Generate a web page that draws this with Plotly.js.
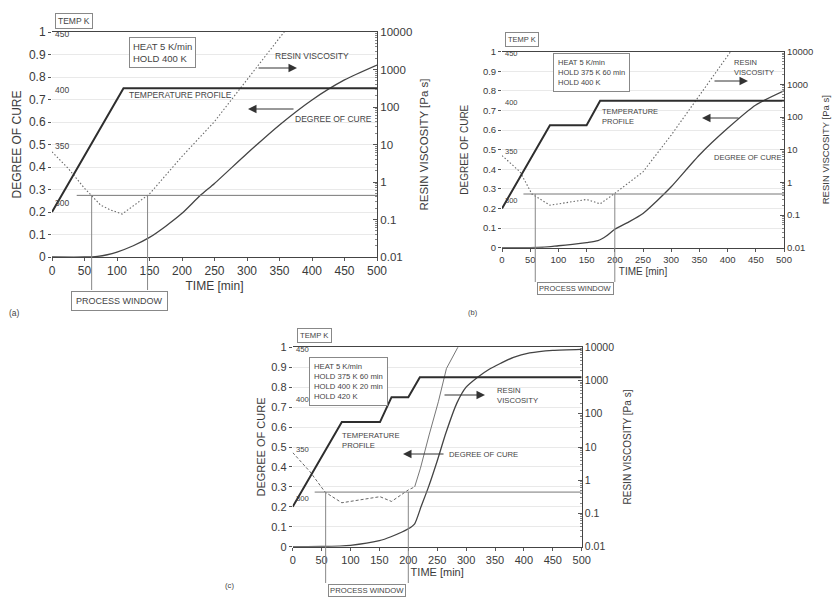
<!DOCTYPE html>
<html>
<head>
<meta charset="utf-8">
<script src="https://cdn.plot.ly/plotly-3.0.1.min.js"></script>
<style>html,body{margin:0;padding:0;background:#fff;}#chart{width:836px;height:601px;}</style>
</head>
<body>
<div id="chart"></div>
<script>
// ================= DATA =================
const timeTickVals = [0, 50, 100, 150, 200, 250, 300, 350, 400, 450, 500];
const cureTickVals = [0, 0.1, 0.2, 0.3, 0.4, 0.5, 0.6, 0.7, 0.8, 0.9, 1];
const viscTickVals = [0.01, 0.1, 1, 10, 100, 1000, 10000];
const viscTickText = ["0.01", "0.1", "1", "10", "100", "1000", "10000"];
const tempLabels = [300, 350, 400, 450];
const thresholdVisc = 0.44;      // Pa s, process-window viscosity limit
const thresholdStart = 38;       // min, where the limit line begins

// (a) HEAT 5 K/min, HOLD 400 K
const tempTimeA = [0, 110, 500];
const tempKA = [290, 400, 400];
const cureTimeA = [0, 50, 70, 85, 100, 125, 150, 175, 200, 228, 250, 300, 350, 400, 450, 500];
const cureA = [0, 0, 0.003, 0.01, 0.022, 0.05, 0.087, 0.137, 0.194, 0.273, 0.327, 0.46, 0.587, 0.698, 0.787, 0.853];
const viscTimeA = [0, 25, 50, 75, 90, 108, 150, 200, 250, 300, 350, 365];
const viscA = [6.4, 2.3, 0.68, 0.24, 0.18, 0.14, 0.48, 4.8, 41, 535, 6900, 15000];
const windowA = [61, 147];

// (b) HEAT 5 K/min, HOLD 375 K 60 min, HOLD 400 K
const tempTimeB = [0, 85, 150, 174, 500];
const tempKB = [290, 375, 375, 400, 400];
const cureTimeB = [0, 50, 75, 100, 125, 150, 170, 185, 200, 225, 250, 275, 300, 350, 400, 450, 500];
const cureB = [0, 0, 0.003, 0.01, 0.017, 0.026, 0.036, 0.06, 0.094, 0.132, 0.175, 0.24, 0.311, 0.473, 0.609, 0.728, 0.8];
const viscTimeB = [0, 32, 53, 85, 150, 174, 200, 250, 300, 350, 400, 410];
const viscB = [6.6, 2.1, 0.44, 0.2, 0.3, 0.22, 0.46, 2.1, 28, 470, 7900, 13000];
const windowB = [59, 200];

// (c) HEAT 5 K/min, HOLD 375 K 60 min, HOLD 400 K 20 min, HOLD 420 K
const tempTimeC = [0, 85, 151, 171, 200, 220, 500];
const tempKC = [290, 375, 375, 400, 400, 420, 420];
const cureTimeC = [0, 50, 100, 150, 170, 200, 211, 222, 235, 250, 265, 284, 300, 320, 340, 360, 382, 410, 450, 500];
const cureC = [0, 0.001, 0.007, 0.03, 0.05, 0.09, 0.115, 0.2, 0.3, 0.43, 0.57, 0.72, 0.8, 0.85, 0.89, 0.92, 0.95, 0.972, 0.985, 0.99];
const viscTimeC = [0, 30, 56, 85, 151, 171, 200, 211, 221, 236, 252, 266, 287, 295];
const viscC = [6.8, 1.8, 0.44, 0.21, 0.32, 0.23, 0.51, 0.63, 2.3, 23, 230, 2300, 10000, 20000];
const viscSolidFromC = 211;
const windowC = [57, 200];

// ================= LAYOUT HELPERS =================
const W = 836, H = 601;
const px = x => x / W;
const py = y => 1 - y / H;
const FONT = 'Liberation Sans, Arial, Helvetica, sans-serif';
const INK = '#3a3a3a';

// minor tick positions of the log axis: 2..9 in every decade
const viscMinorVals = [];
for (let d = -2; d < 4; d++) for (let k = 2; k <= 9; k++) viscMinorVals.push(k * Math.pow(10, d));

const panels = [
  {xa:'x',  ya:'y',  yv:'y2', yt:'y3', box:[52,377,32,257], tick:12, title:12, rtick:11.5, rtitle:11.5,
   ys:4, xs:4, rs:8, ann:8.5, tempFont:8.5, pwTop:290, pwMid:301, pwPad:4, pwFont:9,
   tempT:tempTimeA, tempK:tempKA, cureT:cureTimeA, cure:cureA, viscT:viscTimeA, visc:viscA, win:windowA, viscDash:'1.5px,2px'},
  {xa:'x2', ya:'y4', yv:'y5', yt:'y6', box:[502,784,51.7,247.7], tick:9.5, title:10, rtick:9.5, rtitle:9.5,
   ys:12, xs:3, rs:10, ann:7.5, tempFont:7.5, pwTop:282, pwMid:288.5, pwPad:1, pwFont:7.5,
   tempT:tempTimeB, tempK:tempKB, cureT:cureTimeB, cure:cureB, viscT:viscTimeB, visc:viscB, win:windowB, viscDash:'1.5px,2px'},
  {xa:'x3', ya:'y7', yv:'y8', yt:'y9', box:[292.7,581.7,347.3,546.7], tick:11, title:11, rtick:10.5, rtitle:10,
   ys:3, xs:3, rs:10, ann:7.7, tempFont:7.7, pwTop:583, pwMid:590, pwPad:1, pwFont:7.7,
   tempT:tempTimeC, tempK:tempKC, cureT:cureTimeC, cure:cureC, viscT:viscTimeC, visc:viscC, win:windowC, viscDash:'3px,2px'}
];

const axKey = id => (id[0] === 'x' ? 'xaxis' : 'yaxis') + id.slice(1);

const traces = [];
const layout = {
  width: W, height: H,
  margin: {l:0, r:0, t:0, b:0},
  paper_bgcolor: '#ffffff', plot_bgcolor: 'rgba(0,0,0,0)',
  showlegend: false,
  separators: '.',
  font: {family: FONT, color: INK},
  annotations: [], shapes: []
};

panels.forEach(p => {
  const [x0, x1, y0, y1] = p.box;
  const xd = [px(x0), px(x1)], yd = [py(y1), py(y0)];

  layout[axKey(p.xa)] = {
    domain: xd, anchor: p.ya, range: [0, 500],
    tickmode: 'array', tickvals: timeTickVals,
    ticks: 'outside', ticklen: 3, tickcolor: '#555',
    showline: true, mirror: true, linecolor: '#444', linewidth: 1,
    showgrid: false, zeroline: false,
    tickfont: {size: p.tick, color: INK, family: FONT},
    title: {text: 'TIME [min]', font: {size: p.title, color: INK, family: FONT}, standoff: p.xs}
  };
  layout[axKey(p.ya)] = {
    domain: yd, anchor: p.xa, range: [0, 1],
    tickmode: 'array', tickvals: cureTickVals,
    ticks: 'outside', ticklen: 3, tickcolor: '#555',
    showline: false, showgrid: true, gridcolor: '#e9e9e9', gridwidth: 1, zeroline: false,
    tickfont: {size: p.tick, color: INK, family: FONT},
    title: {text: 'DEGREE OF CURE', font: {size: p.title, color: INK, family: FONT}, standoff: p.ys}
  };
  layout[axKey(p.yv)] = {
    overlaying: p.ya, anchor: p.xa, side: 'right', type: 'log', range: [-2, 4],
    tickmode: 'array', tickvals: viscTickVals, ticktext: viscTickText,
    ticks: 'inside', ticklen: 4, tickcolor: '#555',
    minor: {tickmode: 'array', tickvals: viscMinorVals, ticks: 'inside', ticklen: 2, tickcolor: '#888', showgrid: false},
    showline: true, linecolor: '#444', linewidth: 1, showgrid: false, zeroline: false,
    tickfont: {size: p.rtick, color: INK, family: FONT},
    title: {text: 'RESIN VISCOSITY [Pa s]', font: {size: p.rtitle, color: INK, family: FONT}, standoff: p.rs}
  };
  layout[axKey(p.yt)] = {
    overlaying: p.ya, anchor: p.xa, range: [250, 450], visible: false
  };

  // temperature profile
  traces.push({x: p.tempT, y: p.tempK, xaxis: p.xa, yaxis: p.yt, mode: 'lines',
    line: {color: '#2e2e2e', width: 2}, hoverinfo: 'skip'});
  // degree of cure
  traces.push({x: p.cureT, y: p.cure, xaxis: p.xa, yaxis: p.ya, mode: 'lines',
    line: {color: '#444', width: 1.3, shape: 'spline', smoothing: 0.6}, hoverinfo: 'skip'});
  // resin viscosity
  if (p.xa === 'x3') {
    const lowT = [], lowV = [], highT = [], highV = [];
    p.viscT.forEach((t, i) => {
      if (t <= viscSolidFromC) { lowT.push(t); lowV.push(p.visc[i]); }
      if (t >= viscSolidFromC) { highT.push(t); highV.push(p.visc[i]); }
    });
    traces.push({x: lowT, y: lowV, xaxis: p.xa, yaxis: p.yv, mode: 'lines',
      line: {color: '#666', width: 1, dash: p.viscDash}, hoverinfo: 'skip'});
    traces.push({x: highT, y: highV, xaxis: p.xa, yaxis: p.yv, mode: 'lines',
      line: {color: '#666', width: 0.9}, hoverinfo: 'skip'});
  } else {
    traces.push({x: p.viscT, y: p.visc, xaxis: p.xa, yaxis: p.yv, mode: 'lines',
      line: {color: '#6a6a6a', width: 1.1, dash: p.viscDash}, hoverinfo: 'skip'});
  }
  // process-window viscosity limit
  traces.push({x: [thresholdStart, 500], y: [thresholdVisc, thresholdVisc], xaxis: p.xa, yaxis: p.yv,
    mode: 'lines', line: {color: '#777', width: 1}, hoverinfo: 'skip'});

  // process window verticals, from the limit line down to the label box
  const thrFrac = (Math.log10(thresholdVisc) + 2) / 6;
  const boxFrac = (y1 - p.pwTop) / (y1 - y0);
  p.win.forEach(t => {
    layout.shapes.push({type: 'line', xref: p.xa, yref: p.ya + ' domain',
      x0: t, x1: t, y0: thrFrac, y1: boxFrac, line: {color: '#888', width: 1}});
  });
  layout.annotations.push({xref: p.xa, yref: 'paper', x: (p.win[0] + p.win[1]) / 2, y: py(p.pwMid),
    text: 'PROCESS WINDOW', showarrow: false, xanchor: 'center', yanchor: 'middle',
    bordercolor: '#888', borderwidth: 1, borderpad: p.pwPad, bgcolor: '#fff',
    font: {size: p.pwFont, color: '#444', family: FONT}});

  // temperature scale labels inside the plot
  tempLabels.forEach(T => {
    layout.annotations.push({xref: p.xa, yref: p.yt, x: 0, y: T, text: String(T), showarrow: false,
      xanchor: 'left', yanchor: 'middle', xshift: 1, yshift: -2,
      font: {size: p.tempFont, color: '#444', family: FONT}});
  });
});

// ---- free text, boxes and arrows (positions in pixels of the 836x601 page) ----
function txt(x, y, text, size, opts) {
  return Object.assign({xref: 'paper', yref: 'paper', x: px(x), y: py(y), text: text, showarrow: false,
    xanchor: 'left', yanchor: 'middle', align: 'left',
    font: {size: size, color: '#444', family: FONT}}, opts || {});
}
function boxed(x, y, text, size, pad, opts) {
  return txt(x, y, text, size, Object.assign({bordercolor: '#888', borderwidth: 1, borderpad: pad, bgcolor: '#fff'}, opts || {}));
}
function arrow(hx, hy, dx) {
  return {xref: 'paper', yref: 'paper', x: px(hx), y: py(hy), ax: dx, ay: 0, text: '',
    showarrow: true, arrowhead: 2, arrowsize: 1.7, arrowwidth: 1, arrowcolor: '#333', standoff: 0};
}

layout.annotations.push(
  // (a)
  boxed(74, 21, 'TEMP K', 8.5, 2, {xanchor: 'center'}),
  boxed(129, 37, 'HEAT 5 K/min<br>HOLD 400 K', 9.5, 3, {yanchor: 'top'}),
  txt(273, 56, 'RESIN VISCOSITY', 8.5),
  arrow(297, 68, -40),
  txt(127, 95, 'TEMPERATURE PROFILE', 8.5),
  arrow(248, 109, 47),
  txt(293, 119, 'DEGREE OF CURE', 8.5),
  txt(7, 313, '(a)', 8.5),
  // (b)
  boxed(522, 40, 'TEMP K', 7.5, 2, {xanchor: 'center'}),
  boxed(553, 53, 'HEAT 5 K/min<br>HOLD 375 K 60 min<br>HOLD 400 K', 7.5, 4, {yanchor: 'top'}),
  txt(732, 67.5, 'RESIN<br>VISCOSITY', 7.5),
  arrow(748, 81, -35),
  txt(600, 116, 'TEMPERATURE<br>PROFILE', 7.5),
  arrow(702, 118, 38),
  txt(712, 157, 'DEGREE OF CURE', 7.5),
  txt(466, 312, '(b)', 7.5),
  // (c)
  boxed(314, 336, 'TEMP K', 7.7, 2, {xanchor: 'center'}),
  boxed(309, 357, 'HEAT 5 K/min<br>HOLD 375 K 60 min<br>HOLD 400 K 20 min<br>HOLD 420 K', 7.7, 4, {yanchor: 'top'}),
  txt(495, 395, 'RESIN<br>VISCOSITY', 7.7),
  arrow(485, 395, -42),
  txt(340, 440, 'TEMPERATURE<br>PROFILE', 7.7),
  arrow(403, 454, 42),
  txt(447, 454, 'DEGREE OF CURE', 7.7),
  txt(223, 585, '(c)', 7.7)
);

Plotly.newPlot('chart', traces, layout, {staticPlot: true, displayModeBar: false});
</script>
</body>
</html>
